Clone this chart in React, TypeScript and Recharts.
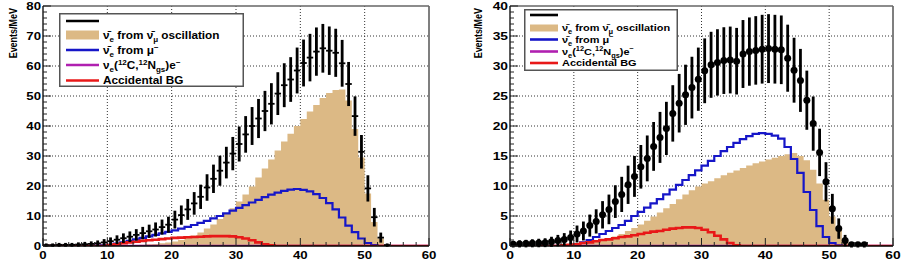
import React from 'react';
import {
  ComposedChart,
  Area,
  Line,
  Scatter,
  XAxis,
  YAxis,
  CartesianGrid,
  ErrorBar,
  ReferenceLine,
} from 'recharts';

const FONT = '"Liberation Sans", Arial, Helvetica, sans-serif';

// ---------- tick labels ----------
const X_MAJOR = [0, 10, 20, 30, 40, 50, 60];
const LEFT_Y_MAJOR = [0, 10, 20, 30, 40, 50, 60, 70, 80];
const RIGHT_Y_MAJOR = [0, 5, 10, 15, 20, 25, 30, 35, 40];

// ---------- left panel (1 MeV bins, E = 0..59) ----------
const leftPoints = [
  0.3, 0.3, 0.4, 0.4, 0.4, 0.5, 0.6, 0.7, 0.9, 1.2,
  1.6, 2.1, 2.6, 3.1, 3.7, 4.3, 4.9, 5.5, 6.3, 7.1,
  8.8, 10.3, 12.2, 14.2, 16.4, 19.5, 22.4, 25.1, 27.8, 30.8,
  34.0, 37.2, 40.0, 42.5, 45.0, 47.4, 50.8, 53.6, 55.5, 58.5,
  61.0, 62.8, 64.8, 65.9, 65.1, 64.4, 60.9, 54.0, 43.3, 31.4,
  19.2, 9.6, 2.8, 0.3,
];
const leftErrors = [
  0.55, 0.55, 0.63, 0.63, 0.63, 0.71, 0.77, 0.84, 0.95, 1.1,
  1.26, 1.45, 1.61, 1.76, 1.92, 2.07, 2.21, 2.35, 2.51, 2.66,
  2.97, 3.21, 3.49, 3.77, 4.05, 4.42, 4.73, 5.01, 5.27, 5.55,
  5.83, 6.1, 6.32, 6.52, 6.71, 6.88, 7.13, 7.32, 7.45, 7.65,
  7.81, 7.92, 8.05, 8.12, 8.07, 8.02, 7.8, 7.35, 6.58, 5.6,
  4.38, 3.1, 1.67, 0.55,
];
const leftOsc = [
  0, 0, 0, 0, 0, 0, 0, 0, 0, 0,
  0.05, 0.1, 0.15, 0.2, 0.3, 0.4, 0.55, 0.7, 0.9, 1.2,
  1.5, 2.0, 2.7, 3.5, 4.5, 5.8, 7.2, 9.0, 10.8, 12.6,
  14.8, 17.2, 19.8, 22.8, 25.8, 28.8, 31.8, 34.8, 37.4, 40.0,
  42.3, 44.8, 47.0, 49.3, 51.0, 52.0, 52.2, 48.5, 39.0, 29.5,
  17.5, 8.0, 2.5, 0.4, 0, 0, 0, 0, 0, 0,
];
const leftMu = [
  0, 0, 0, 0, 0, 0, 0, 0, 0.1, 0.2,
  0.4, 0.8, 1.2, 1.7, 2.2, 2.7, 3.2, 3.7, 4.2, 4.7,
  5.2, 5.8, 6.4, 7.0, 7.7, 8.4, 9.2, 10.0, 10.9, 11.8,
  12.7, 13.6, 14.5, 15.4, 16.3, 17.1, 17.8, 18.4, 18.8, 19.0,
  18.7, 18.2, 17.3, 16.0, 14.3, 12.2, 9.5, 6.8, 4.6, 2.5,
  1.0, 0.3, 0, 0, 0, 0, 0, 0, 0, 0,
];
const leftC12 = [
  0, 0, 0, 0, 0, 0, 0, 0, 0, 0,
  0, 0, 0, 0, 0, 0, 0, 0, 0, 0,
  0, 0, 0, 0, 0, 0, 0, 0, 0, 0,
  0, 0, 0, 0, 0, 0, 0, 0, 0, 0,
  0, 0, 0, 0, 0, 0, 0, 0, 0, 0,
  0, 0, 0, 0, 0, 0, 0, 0, 0, 0,
];
const leftAcc = [
  0, 0, 0, 0, 0, 0, 0, 0, 0, 0,
  0.3, 0.6, 0.9, 1.2, 1.4, 1.7, 1.9, 2.1, 2.3, 2.5,
  2.7, 2.8, 2.9, 3.0, 3.1, 3.2, 3.3, 3.3, 3.3, 3.2,
  2.9, 2.5, 1.9, 1.2, 0.6, 0.2, 0, 0, 0, 0,
  0, 0, 0, 0, 0, 0, 0, 0, 0, 0,
  0, 0, 0, 0, 0, 0, 0, 0, 0, 0,
];

// ---------- right panel ----------
const rightPoints = [
  0.3, 0.35, 0.4, 0.45, 0.5, 0.55, 0.7, 0.9, 1.1, 1.4,
  2.0, 2.5, 3.4, 4.1, 5.2, 6.1, 7.4, 8.6, 10.2, 11.6,
  13.2, 14.6, 16.6, 18.1, 19.6, 22.1, 23.8, 25.2, 26.4, 27.8,
  29.2, 30.2, 30.6, 30.9, 31.0, 30.8, 32.0, 32.4, 32.6, 32.8,
  32.9, 32.8, 32.7, 31.3, 29.3, 27.6, 24.3, 20.4, 15.6, 10.7,
  6.2, 2.9, 0.9, 0.2, 0.2, 0.2,
];
const rightErrors = [
  0.55, 0.59, 0.63, 0.67, 0.71, 0.74, 0.84, 0.95, 1.05, 1.18,
  1.41, 1.58, 1.84, 2.02, 2.28, 2.47, 2.72, 2.93, 3.19, 3.41,
  3.63, 3.82, 4.07, 4.25, 4.43, 4.7, 4.88, 5.02, 5.14, 5.27,
  5.4, 5.5, 5.53, 5.56, 5.57, 5.55, 5.66, 5.69, 5.71, 5.73,
  5.74, 5.73, 5.72, 5.59, 5.41, 5.25, 4.93, 4.52, 3.95, 3.27,
  2.49, 1.7, 0.95, 0.45, 0.45, 0.45,
];
const rightOsc = [
  0, 0, 0, 0, 0, 0, 0, 0, 0, 0,
  0.2, 0.3, 0.5, 0.7, 0.9, 1.2, 1.6, 2.0, 2.5, 3.0,
  3.6, 4.2, 4.9, 5.6, 6.3, 7.0, 7.8, 8.6, 9.3, 9.9,
  10.4, 10.8, 11.3, 11.8, 12.2, 12.6, 13.0, 13.4, 13.8, 14.1,
  14.4, 14.7, 15.0, 15.3, 15.5, 15.0, 14.3, 12.7, 10.4, 7.7,
  4.9, 2.7, 1.0, 0.3, 0, 0, 0, 0, 0, 0,
];
const rightMu = [
  0, 0, 0, 0, 0, 0, 0, 0, 0, 0.1,
  0.3, 0.6, 1.0, 1.5, 2.0, 2.5, 3.0, 3.5, 4.2, 5.0,
  5.7, 6.4, 7.1, 7.8, 8.6, 9.4, 10.2, 11.0, 11.8, 12.6,
  13.4, 14.2, 15.0, 15.8, 16.5, 17.2, 17.8, 18.3, 18.7, 18.8,
  18.7, 18.4, 17.9, 16.5, 14.5, 12.2, 9.0, 6.0, 3.3, 1.5,
  0.5, 0.1, 0, 0, 0, 0, 0, 0, 0, 0,
];
const rightC12 = [
  0, 0, 0, 0, 0, 0, 0, 0, 0, 0,
  0, 0, 0, 0, 0, 0, 0, 0, 0, 0,
  0, 0, 0, 0, 0, 0, 0, 0, 0, 0,
  0, 0, 0, 0, 0, 0, 0, 0, 0, 0,
  0, 0, 0, 0, 0, 0, 0, 0, 0, 0,
  0, 0, 0, 0, 0, 0, 0, 0, 0, 0,
];
const rightAcc = [
  0, 0, 0, 0, 0, 0, 0, 0, 0.1, 0.2,
  0.3, 0.5, 0.6, 0.8, 1.0, 1.1, 1.3, 1.5, 1.6, 1.8,
  2.0, 2.2, 2.4, 2.5, 2.7, 2.9, 3.0, 3.1, 3.1, 3.0,
  2.7, 2.3, 1.7, 1.1, 0.5, 0.1, 0, 0, 0, 0,
  0, 0, 0, 0, 0, 0, 0, 0, 0, 0,
  0, 0, 0, 0, 0, 0, 0, 0, 0, 0,
];

const TAN = '#dcb985';
const BLUE = '#1616c8';
const MAGENTA = '#b020b0';
const RED = '#e81818';

function buildSteps(osc: number[], mu: number[], c12: number[], acc: number[]) {
  const rows = [] as any[];
  for (let i = 0; i <= 60; i++) {
    const k = Math.min(i, 59);
    rows.push({ x: i, osc: osc[k], mu: mu[k], c12: c12[k], acc: acc[k] });
  }
  return rows;
}
function buildPoints(vals: number[], errs: number[]) {
  return vals.map((v, i) => ({ x: i + 0.5, y: v, err: errs[i], xerr: 0.5 }));
}
function tickList(max: number, step: number) {
  const out: number[] = [];
  for (let i = 0; i * step <= max + 1e-9; i++) out.push(+(i * step).toFixed(3));
  return out;
}

const makeXTick = (sx: number, fs: number) => (p: any) => {
  const { x, y, payload } = p;
  const v = payload.value;
  const major = X_MAJOR.includes(v);
  return (
    <g key={`xt-${v}`}>
      <line x1={x} x2={x} y1={y} y2={y - (major ? 8 : 4)} stroke="#222" strokeWidth={1} />
      {major && (
        <text
          transform={`translate(${x},${y + 13}) scale(${sx},1)`}
          textAnchor="middle"
          fontFamily={FONT}
          fontWeight="bold"
          fontSize={fs}
          fill="#000"
        >
          {v}
        </text>
      )}
    </g>
  );
};

const makeYTick = (majors: number[], sx: number, fs: number) => (p: any) => {
  const { x, y, payload } = p;
  const v = payload.value;
  const major = majors.includes(v);
  return (
    <g key={`yt-${v}`}>
      <line x1={x} x2={x + (major ? 8 : 4)} y1={y} y2={y} stroke="#222" strokeWidth={1} />
      {major && (
        <text
          transform={`translate(${x - 2},${y + 4}) scale(${sx},1)`}
          textAnchor="end"
          fontFamily={FONT}
          fontWeight="bold"
          fontSize={fs}
          fill="#000"
        >
          {v}
        </text>
      )}
    </g>
  );
};

function Panel(props: any) {
  const { left, width, yMax, yMajor, yMinorStep, steps, pts, filled, yAxisWidth, marginRight, sx, fs } = props;
  const xTicks = tickList(60, 2);
  const yTicks = tickList(yMax, yMinorStep);
  return (
    <div style={{ position: 'absolute', left, top: 0 }}>
      <ComposedChart
        width={width}
        height={276}
        data={steps}
        margin={{ top: 6, right: marginRight, bottom: 0, left: 0 }}
      >
        <CartesianGrid
          stroke="#333"
          strokeDasharray="1 2"
          horizontalValues={yMajor.slice(1, -1)}
          verticalValues={X_MAJOR.slice(1, -1)}
        />
        <XAxis
          dataKey="x"
          type="number"
          domain={[0, 60]}
          ticks={xTicks}
          interval={0}
          tickSize={0}
          tickMargin={0}
          tickLine={false}
          height={30}
          allowDataOverflow
          axisLine={{ stroke: '#000', strokeWidth: 1.3 }}
          tick={makeXTick(sx, fs)}
        />
        <YAxis
          type="number"
          domain={[0, yMax]}
          ticks={yTicks}
          interval={0}
          tickSize={0}
          tickMargin={0}
          tickLine={false}
          width={yAxisWidth}
          allowDataOverflow
          axisLine={{ stroke: '#000', strokeWidth: 1.3 }}
          tick={makeYTick(yMajor, sx, fs)}
        />
        <Area
          dataKey="osc"
          type="stepAfter"
          fill={TAN}
          fillOpacity={1}
          stroke="none"
          isAnimationActive={false}
        />
        <Line dataKey="c12" type="stepAfter" stroke={MAGENTA} strokeWidth={2.4} dot={false} isAnimationActive={false} />
        <Line dataKey="mu" type="stepAfter" stroke={BLUE} strokeWidth={2.2} dot={false} isAnimationActive={false} />
        <Line dataKey="acc" type="stepAfter" stroke={RED} strokeWidth={2.6} dot={false} isAnimationActive={false} />
        <ReferenceLine x={60} stroke="#555" strokeWidth={1.5} />
        <ReferenceLine y={yMax} stroke="#666" strokeWidth={1.5} />
        <Scatter
          data={pts}
          dataKey="y"
          isAnimationActive={false}
          shape={(s: any) =>
            filled ? <circle cx={s.cx} cy={s.cy} r={3.5} fill="#000" /> : <g />
          }
        >
          <ErrorBar dataKey="err" direction="y" width={0} stroke="#000" strokeWidth={2.8} />
          {!filled && <ErrorBar dataKey="xerr" direction="x" width={0} stroke="#000" strokeWidth={1.8} />}
        </Scatter>
      </ComposedChart>
    </div>
  );
}

function LegendBox(props: any) {
  const { left, top, w, h, rows, sampleX1, sampleX2, textX, fs, sx, bandH } = props;
  const sub = fs * 0.68;
  const d = fs * 0.28;
  const texts = [
    null,
    <>
      <tspan>{'ν\u0304'}</tspan>
      <tspan fontSize={sub} dy={d}>e</tspan>
      <tspan dy={-d}>{' from ν\u0304'}</tspan>
      <tspan fontSize={sub} dy={d}>μ</tspan>
      <tspan dy={-d}>{' oscillation'}</tspan>
    </>,
    <>
      <tspan>{'ν\u0304'}</tspan>
      <tspan fontSize={sub} dy={d}>e</tspan>
      <tspan dy={-d}>{' from μ'}</tspan>
      <tspan fontSize={sub} dy={-d * 1.4}>−</tspan>
    </>,
    <>
      <tspan>ν</tspan>
      <tspan fontSize={sub} dy={d}>e</tspan>
      <tspan dy={-d}>(</tspan>
      <tspan fontSize={sub} dy={-d * 1.3}>12</tspan>
      <tspan dy={d * 1.3}>C,</tspan>
      <tspan fontSize={sub} dy={-d * 1.3}>12</tspan>
      <tspan dy={d * 1.3}>N</tspan>
      <tspan fontSize={sub} dy={d}>gs</tspan>
      <tspan dy={-d}>)e</tspan>
      <tspan fontSize={sub} dy={-d * 1.4}>−</tspan>
    </>,
    <tspan>Accidental BG</tspan>,
  ];
  const colors = ['#000', TAN, BLUE, MAGENTA, RED];
  return (
    <svg
      width={w}
      height={h}
      style={{ position: 'absolute', left, top, overflow: 'visible' }}
    >
      <rect x={0.75} y={0.75} width={w - 1.5} height={h - 1.5} fill="#fff" stroke="#555" strokeWidth={1.5} />
      {rows.map((ry: number, i: number) => (
        <g key={i}>
          {i === 1 ? (
            <rect x={sampleX1} y={ry - bandH / 2} width={sampleX2 - sampleX1} height={bandH} fill={TAN} />
          ) : (
            <line x1={sampleX1} x2={sampleX2} y1={ry} y2={ry} stroke={colors[i]} strokeWidth={2.6} />
          )}
          {texts[i] && (
            <text
              transform={`translate(${textX},${ry + fs * 0.36}) scale(${sx},1)`}
              fontFamily={FONT}
              fontWeight="bold"
              fontSize={fs}
              fill="#000"
            >
              {texts[i]}
            </text>
          )}
        </g>
      ))}
    </svg>
  );
}

function YTitle({ left, x, y }: { left: number; x: number; y: number }) {
  return (
    <svg width={30} height={80} style={{ position: 'absolute', left, top: 0, overflow: 'visible' }}>
      <text
        transform={`translate(${x},${y}) rotate(-90) scale(0.88,1.15)`}
        textAnchor="end"
        fontFamily={FONT}
        fontWeight="bold"
        fontSize={10.2}
        fill="#000"
      >
        Events/MeV
      </text>
    </svg>
  );
}

export default function App() {
  const leftSteps = buildSteps(leftOsc, leftMu, leftC12, leftAcc);
  const rightSteps = buildSteps(rightOsc, rightMu, rightC12, rightAcc);
  const leftPts = buildPoints(leftPoints, leftErrors);
  const rightPts = buildPoints(rightPoints, rightErrors);
  return (
    <div style={{ position: 'absolute', left: 0, top: 0, width: 913, height: 276, background: '#fff', overflow: 'hidden' }}>
      <Panel
        left={0}
        width={440}
        yMax={80}
        yMajor={LEFT_Y_MAJOR}
        yMinorStep={2}
        steps={leftSteps}
        pts={leftPts}
        filled={false}
        yAxisWidth={43}
        marginRight={11}
        sx={1.15}
        fs={11.5}
      />
      <Panel
        left={455}
        width={450}
        yMax={40}
        yMajor={RIGHT_Y_MAJOR}
        yMinorStep={1}
        steps={rightSteps}
        pts={rightPts}
        filled={true}
        yAxisWidth={55}
        marginRight={12}
        sx={1.2}
        fs={11.5}
      />
      <YTitle left={0} x={17} y={8} />
      <YTitle left={460} x={22} y={8} />
      <LegendBox
        left={59}
        top={13}
        w={185}
        h={74}
        rows={[8, 22, 37, 52, 67.5]}
        sampleX1={7}
        sampleX2={40}
        textX={44}
        fs={11}
        sx={1.07}
        bandH={9}
      />
      <LegendBox
        left={524}
        top={9}
        w={154}
        h={62}
        rows={[6, 19, 30.5, 42.5, 54]}
        sampleX1={6}
        sampleX2={34}
        textX={38}
        fs={9.5}
        sx={1.15}
        bandH={7}
      />
    </div>
  );
}
